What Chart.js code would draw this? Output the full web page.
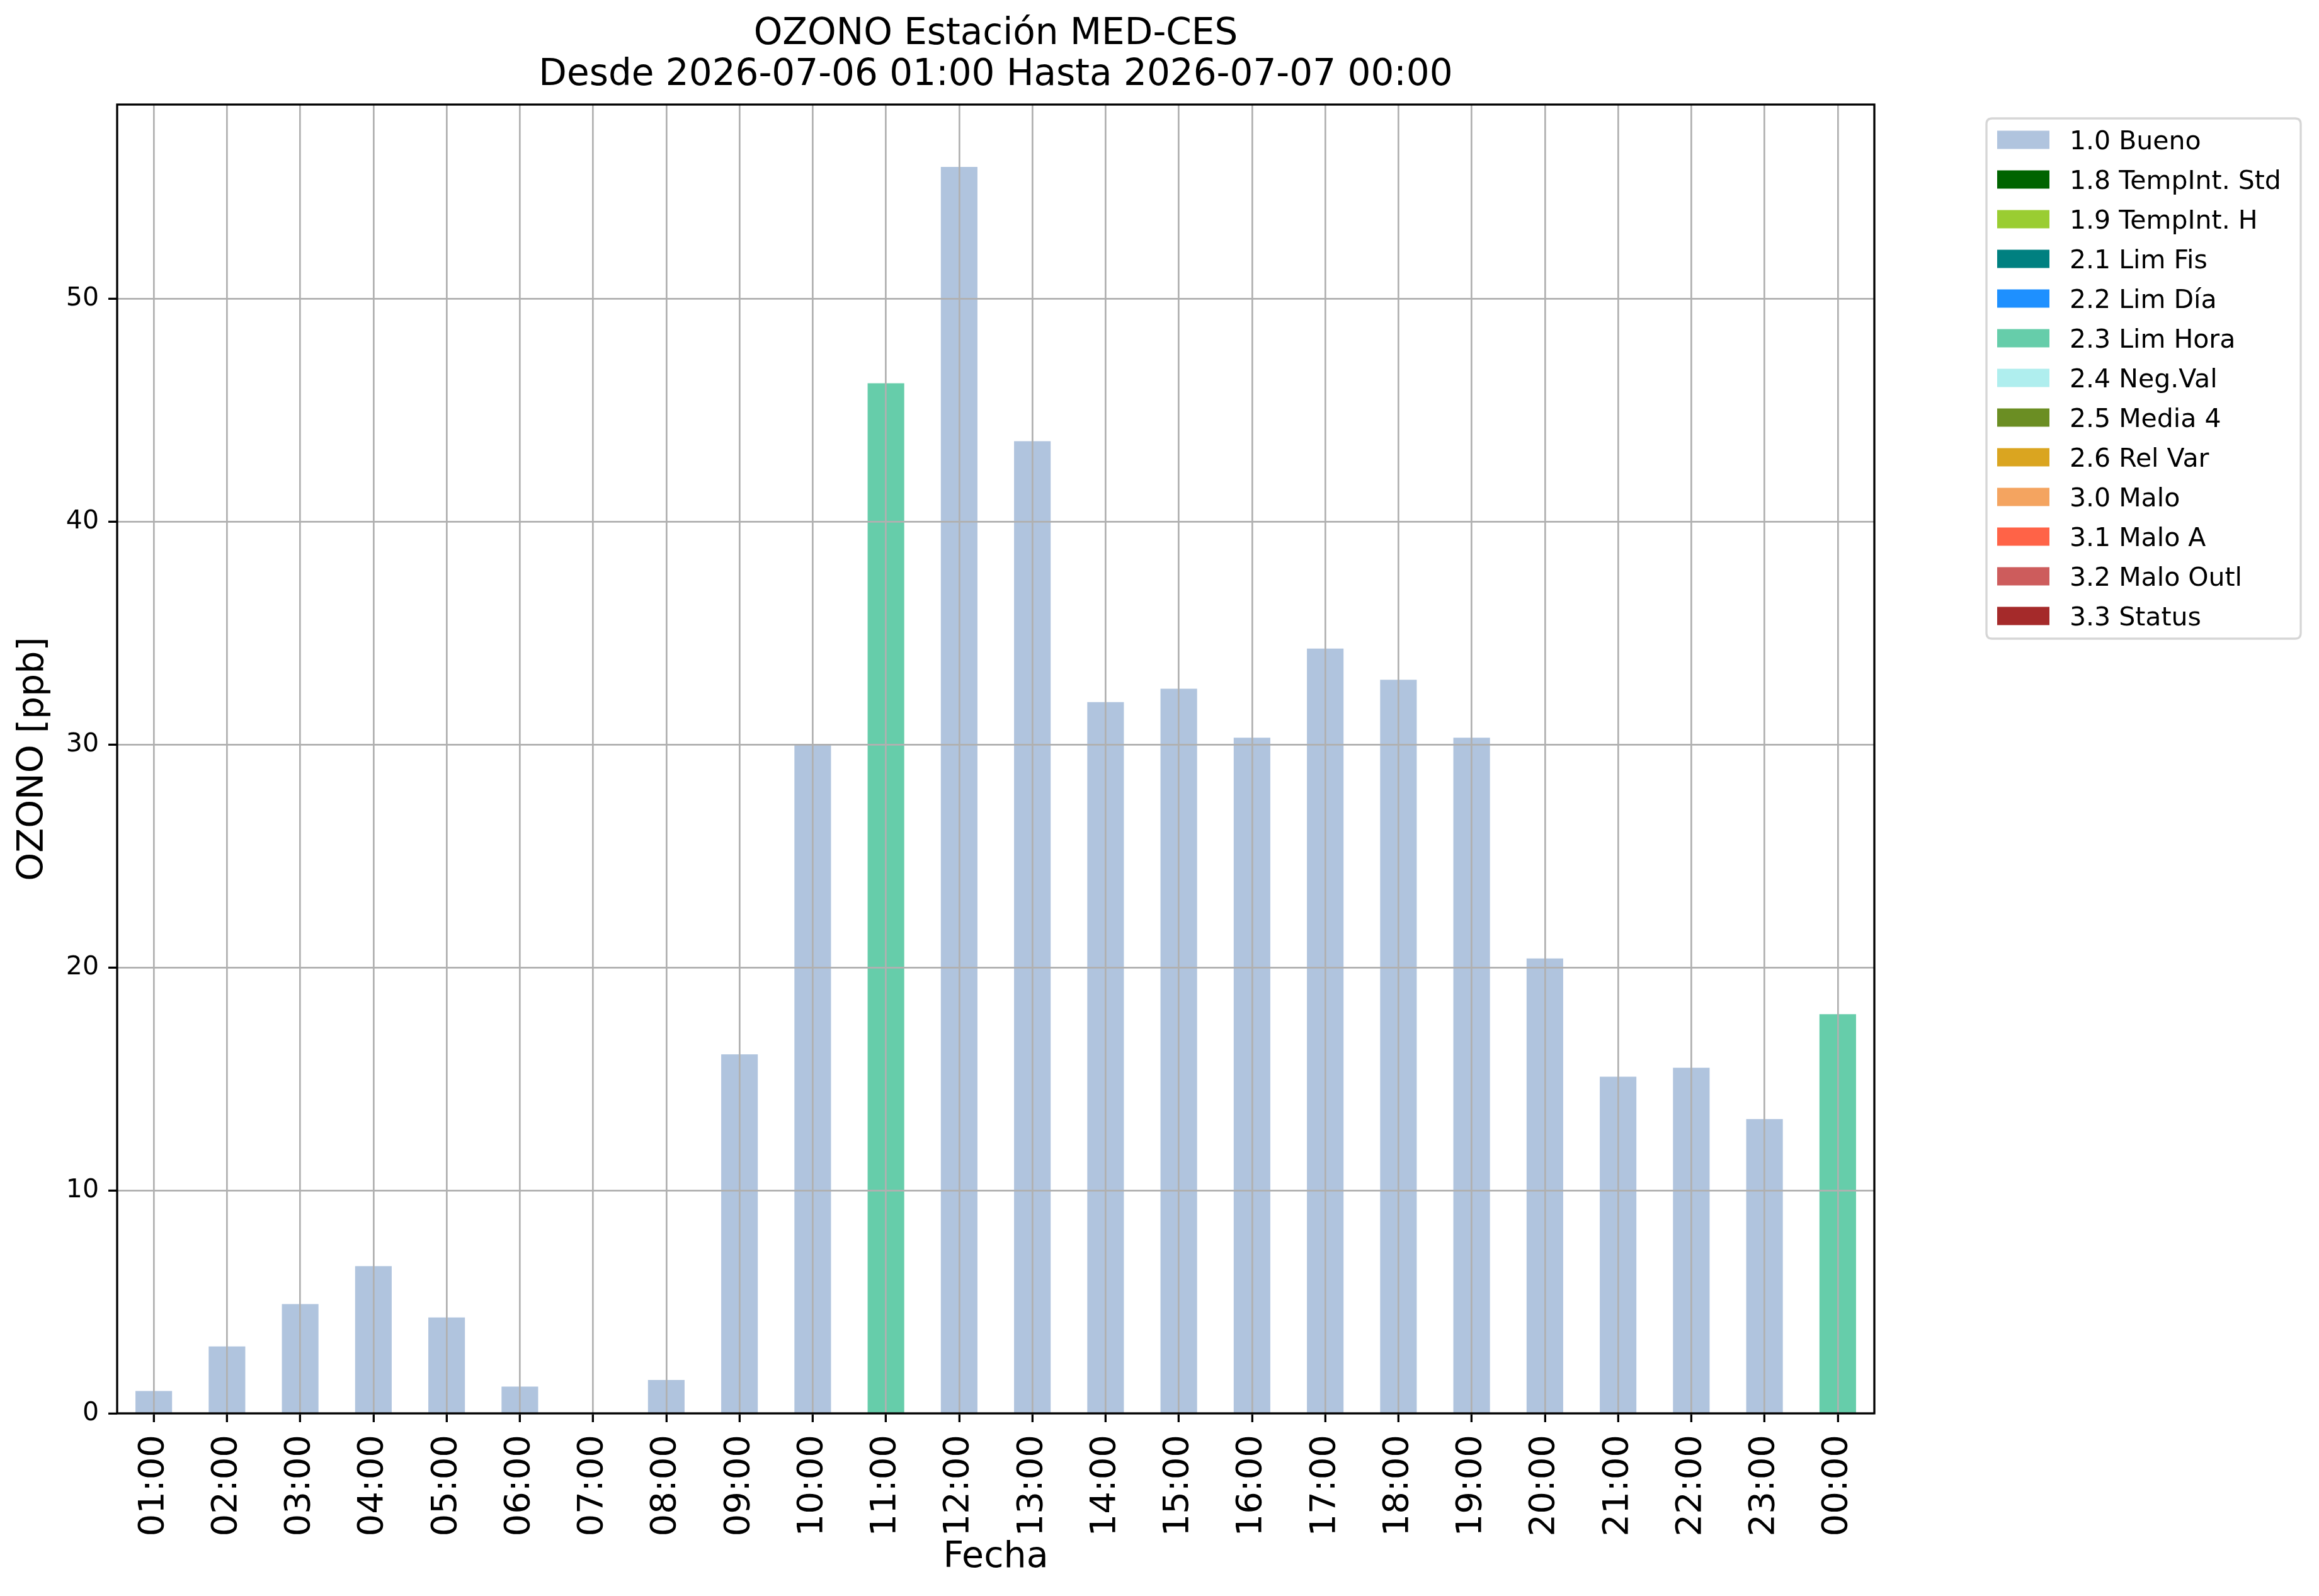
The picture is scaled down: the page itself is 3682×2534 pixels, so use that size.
<!DOCTYPE html>
<html>
<head>
<meta charset="utf-8">
<script src="https://cdn.jsdelivr.net/npm/chart.js@4/dist/chart.umd.min.js"></script>
<style>
  html, body { margin: 0; padding: 0; background: #ffffff; }
  #c { display: block; }
</style>
</head>
<body>
<canvas id="c" width="3682" height="2534"></canvas>
<script>
// ---- Data ----
const categories = ['01:00','02:00','03:00','04:00','05:00','06:00','07:00','08:00','09:00','10:00','11:00','12:00',
                    '13:00','14:00','15:00','16:00','17:00','18:00','19:00','20:00','21:00','22:00','23:00','00:00'];
const ozono = [1.0, 3.0, 4.9, 6.6, 4.3, 1.2, null, 1.5, 16.1, 30.0, 46.2, 55.9,
               43.6, 31.9, 32.5, 30.3, 34.3, 32.9, 30.3, 20.4, 15.1, 15.5, 13.2, 17.9];
const flags = ['1.0 Bueno','1.0 Bueno','1.0 Bueno','1.0 Bueno','1.0 Bueno','1.0 Bueno','1.0 Bueno','1.0 Bueno',
               '1.0 Bueno','1.0 Bueno','2.3 Lim Hora','1.0 Bueno','1.0 Bueno','1.0 Bueno','1.0 Bueno','1.0 Bueno',
               '1.0 Bueno','1.0 Bueno','1.0 Bueno','1.0 Bueno','1.0 Bueno','1.0 Bueno','1.0 Bueno','2.3 Lim Hora'];
const flagLabels = ['1.0 Bueno','1.8 TempInt. Std','1.9 TempInt. H','2.1 Lim Fis','2.2 Lim Día','2.3 Lim Hora',
                    '2.4 Neg.Val','2.5 Media 4','2.6 Rel Var','3.0 Malo','3.1 Malo A','3.2 Malo Outl','3.3 Status'];
const flagColors = ['#b0c4de','#006400','#9acd32','#008080','#1e90ff','#66cdaa',
                    '#afeeee','#6b8e23','#daa520','#f4a460','#ff6347','#cd5c5c','#a52a2a'];
const yTicksStep = 10;
const yMax = 58.7;
const titleLines = ['OZONO Estación MED-CES', 'Desde 2026-07-06 01:00 Hasta 2026-07-07 00:00'];
const xTitle = 'Fecha';
const yTitle = 'OZONO [ppb]';

// ---- Datasets built from the arrays ----
const datasets = flagLabels.map((lab, k) => ({
  label: lab,
  data: ozono.map((v, i) => (flags[i] === lab ? v : null)),
  backgroundColor: flagColors[k],
  borderWidth: 0,
  barPercentage: 0.5,
  categoryPercentage: 1.0
}));

const FONT = 'DejaVu Sans';
Chart.defaults.font.family = FONT;
Chart.defaults.color = '#000000';

const framePlugin = {
  id: 'frame',
  afterDraw(chart) {
    const ctx = chart.ctx;
    const a = chart.chartArea;
    ctx.save();
    ctx.strokeStyle = '#000000';
    ctx.lineWidth = 3.3;
    ctx.lineJoin = 'miter';
    ctx.strokeRect(a.left, a.top, a.right - a.left, a.bottom - a.top);
    ctx.restore();
  }
};

const legendPlugin = {
  id: 'customLegend',
  afterDraw(chart) {
    const ctx = chart.ctx;
    const bx = 3154, by = 188, bw = 499, bh = 826, r = 9;
    ctx.save();
    ctx.beginPath();
    ctx.moveTo(bx + r, by);
    ctx.lineTo(bx + bw - r, by);
    ctx.quadraticCurveTo(bx + bw, by, bx + bw, by + r);
    ctx.lineTo(bx + bw, by + bh - r);
    ctx.quadraticCurveTo(bx + bw, by + bh, bx + bw - r, by + bh);
    ctx.lineTo(bx + r, by + bh);
    ctx.quadraticCurveTo(bx, by + bh, bx, by + bh - r);
    ctx.lineTo(bx, by + r);
    ctx.quadraticCurveTo(bx, by, bx + r, by);
    ctx.closePath();
    ctx.fillStyle = 'rgba(255,255,255,0.8)';
    ctx.fill();
    ctx.strokeStyle = '#d6d6d6';
    ctx.lineWidth = 3.3;
    ctx.stroke();
    ctx.font = '41px "' + FONT + '"';
    ctx.textBaseline = 'alphabetic';
    ctx.textAlign = 'left';
    chart.data.datasets.forEach((ds, i) => {
      const cy = 222 + 63 * i;
      ctx.fillStyle = ds.backgroundColor;
      ctx.fillRect(3171, cy - 14.5, 83, 29);
      ctx.fillStyle = '#000000';
      ctx.fillText(ds.label, 3286, cy + 15);
    });
    ctx.restore();
  }
};

new Chart(document.getElementById('c'), {
  type: 'bar',
  data: { labels: categories, datasets: datasets },
  options: {
    responsive: false,
    devicePixelRatio: 1,
    animation: false,
    layout: { padding: { left: 0, right: 706, top: 0, bottom: 0 } },
    plugins: {
      legend: { display: false },
      tooltip: { enabled: false },
      title: {
        display: true,
        text: titleLines,
        fullSize: false,
        color: '#000000',
        font: { family: FONT, size: 58, weight: 'normal', lineHeight: 65 / 58 },
        padding: { top: 22.5, bottom: 13.5 }
      }
    },
    scales: {
      x: {
        stacked: true,
        offset: true,
        afterFit: (s) => { s.height = 290; },
        grid: {
          display: true,
          offset: false,
          color: '#b0b0b0',
          lineWidth: 2.7,
          drawTicks: true,
          tickLength: 14,
          tickColor: '#000000',
          tickWidth: 3.3,
          z: 1
        },
        border: { display: false },
        ticks: {
          autoSkip: false,
          minRotation: 90,
          maxRotation: 90,
          padding: 20,
          color: '#000000',
          font: { family: FONT, size: 56 }
        },
        title: {
          display: true,
          text: xTitle,
          color: '#000000',
          font: { family: FONT, size: 57 },
          padding: { top: 0, bottom: 27 }
        }
      },
      y: {
        stacked: true,
        min: 0,
        max: yMax,
        afterFit: (s) => { s.width = 186; },
        grid: {
          display: true,
          color: '#b0b0b0',
          lineWidth: 2.7,
          drawTicks: true,
          tickLength: 14,
          tickColor: '#000000',
          tickWidth: 3.3,
          z: 1
        },
        border: { display: false },
        ticks: {
          stepSize: yTicksStep,
          includeBounds: false,
          padding: 15,
          color: '#000000',
          font: { family: FONT, size: 41 }
        },
        title: {
          display: true,
          text: yTitle,
          color: '#000000',
          font: { family: FONT, size: 57 },
          padding: { top: 19, bottom: 0 }
        }
      }
    }
  },
  plugins: [framePlugin, legendPlugin]
});
</script>
</body>
</html>
